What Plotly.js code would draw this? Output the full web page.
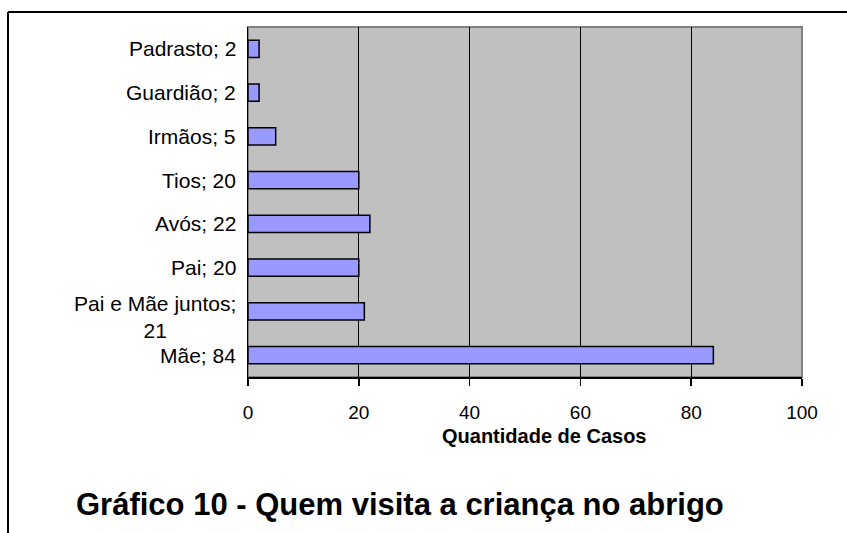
<!DOCTYPE html>
<html>
<head>
<meta charset="utf-8">
<script src="https://cdn.plot.ly/plotly-3.0.1.min.js"></script>
<style>html,body{margin:0;padding:0;background:#fff;}</style>
</head>
<body>
<div id="chart" style="width:847px;height:533px;"></div>
<script>
// Data (bottom to top)
const categories = ["Mãe", "Pai e Mãe juntos", "Pai", "Avós", "Tios", "Irmãos", "Guardião", "Padrasto"];
const values = [84, 21, 20, 22, 20, 5, 2, 2];
const labelTexts = ["Mãe; 84", "Pai e Mãe juntos;<br>21", "Pai; 20", "Avós; 22", "Tios; 20", "Irmãos; 5", "Guardião; 2", "Padrasto; 2"];
const xTicks = [0, 20, 40, 60, 80, 100];
const chartTitle = "Gráfico 10 - Quem visita a criança no abrigo";
const xTitle = "Quantidade de Casos";

const FONT = "Arial, 'Liberation Sans', sans-serif";

const trace = {
  type: "bar",
  orientation: "h",
  y: categories,
  x: values,
  marker: { color: "#9999FF", line: { color: "#000000", width: 1.5 } },
  hoverinfo: "none"
};

const catAnnotations = categories.map((c, i) => ({
  xref: "paper", yref: "y",
  x: 0, y: c,
  xanchor: "right", yanchor: "middle",
  xshift: -10,
  yshift: labelTexts[i].indexOf("<br>") >= 0 ? -6 : 0,
  text: labelTexts[i],
  align: "center",
  showarrow: false,
  font: { family: FONT, size: 21, color: "#000" }
}));

const layout = {
  width: 847, height: 533,
  margin: { l: 248, r: 45, t: 27, b: 156 },
  paper_bgcolor: "#ffffff",
  plot_bgcolor: "#C0C0C0",
  showlegend: false,
  bargap: 0.61,
  xaxis: {
    range: [0, 100],
    tickvals: xTicks,
    ticktext: xTicks.map(String),
    showgrid: true, gridcolor: "#000000", gridwidth: 1,
    zeroline: false,
    showline: true, linecolor: "#000000", linewidth: 1.5,
    ticks: "outside", ticklen: 7, tickcolor: "#000", tickwidth: 1.5,
    ticklabelstandoff: 11,
    tickfont: { family: FONT, size: 19, color: "#000" },
    fixedrange: true
  },
  yaxis: {
    categoryorder: "array",
    categoryarray: categories,
    showticklabels: false,
    showgrid: false, zeroline: false,
    showline: true, linecolor: "#000000", linewidth: 1.5,
    ticks: "",
    fixedrange: true
  },
  shapes: [
    { type: "rect", xref: "paper", yref: "paper", x0: 0, x1: 1, y0: 0, y1: 1,
      line: { color: "#808080", width: 2 }, layer: "below" },
    { type: "line", xref: "paper", yref: "paper", x0: -0.4332, x1: 1.09, y0: 1.0429, y1: 1.0429,
      line: { color: "#000", width: 2 } },
    { type: "line", xref: "paper", yref: "paper", x0: -0.4332, x1: -0.4332, y0: 1.0429, y1: -0.47,
      line: { color: "#000", width: 2 } }
  ],
  annotations: catAnnotations.concat([
    { xref: "paper", yref: "paper", x: 0.5343, y: -0.1686, xanchor: "center", yanchor: "middle",
      text: "<b>" + xTitle + "</b>", showarrow: false,
      font: { family: FONT, size: 20, color: "#000" } },
    { xref: "paper", yref: "paper", x: -0.3141, y: -0.3657, xanchor: "left", yanchor: "middle",
      text: "<b>" + chartTitle + "</b>", showarrow: false,
      font: { family: FONT, size: 31, color: "#000" } }
  ])
};

Plotly.newPlot("chart", [trace], layout, { displayModeBar: false, staticPlot: true });
</script>
</body>
</html>
